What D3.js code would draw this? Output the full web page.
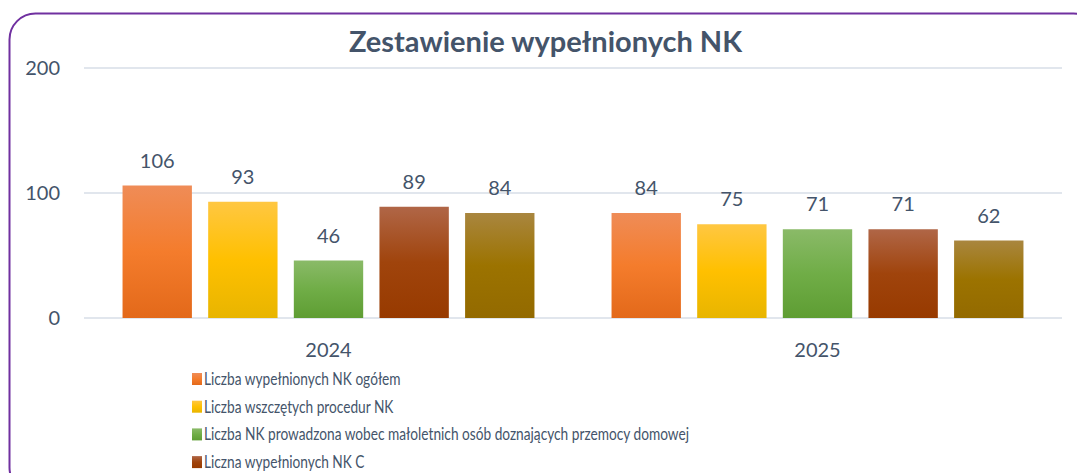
<!DOCTYPE html>
<html>
<head>
<meta charset="utf-8">
<script src="https://cdn.jsdelivr.net/npm/d3@7"></script>
<style>
  html, body { margin: 0; padding: 0; background: #ffffff; }
  svg { display: block; }
  text { font-family: Lato, "Noto Sans", sans-serif; fill: #44546a; }
</style>
</head>
<body>
<svg id="chart" width="1077" height="473"></svg>
<script>
const title = "Zestawienie wypełnionych NK";
const categories = ["2024", "2025"];
const seriesNames = [
  "Liczba wypełnionych NK ogółem",
  "Liczba wszczętych procedur NK",
  "Liczba NK prowadzona wobec małoletnich osób doznających przemocy domowej",
  "Liczna wypełnionych NK C",
  "Liczba zakończonych procedur NK"
];
const values2024 = [106, 93, 46, 89, 84];
const values2025 = [84, 75, 71, 71, 62];
const yTicks = [0, 100, 200];
const seriesColors = [
  ["#ef8c57", "#f47c2c", "#e3691a"],
  ["#ffc742", "#ffc000", "#e8b500"],
  ["#8aba68", "#70ad47", "#5e9d33"],
  ["#b06647", "#a0440c", "#973a00"],
  ["#a9863f", "#9c7300", "#936a00"]
];

const valuesByCategory = [values2024, values2025];
const data = categories.map((c, i) => ({
  category: c,
  values: seriesNames.map((s, j) => ({ series: j, value: valuesByCategory[i][j] }))
}));

const W = 1077, H = 473;
const margin = { left: 84, right: 15, top: 68, bottom: 155 };
const svg = d3.select("#chart");

svg.append("rect").attr("width", W).attr("height", H).attr("fill", "#ffffff");

const defs = svg.append("defs");
seriesColors.forEach((cols, i) => {
  const g = defs.append("linearGradient")
    .attr("id", "grad" + i)
    .attr("x1", 0).attr("y1", 0).attr("x2", 0).attr("y2", 1);
  g.append("stop").attr("offset", "0%").attr("stop-color", cols[0]);
  g.append("stop").attr("offset", "50%").attr("stop-color", cols[1]);
  g.append("stop").attr("offset", "100%").attr("stop-color", cols[2]);
});

// frame
svg.append("rect")
  .attr("x", 9.5).attr("y", 13.5)
  .attr("width", 1090).attr("height", 480)
  .attr("rx", 26).attr("ry", 26)
  .attr("fill", "none")
  .attr("stroke", "#7030a0")
  .attr("stroke-width", 2);

const plotLeft = margin.left, plotRight = W - margin.right;
const y = d3.scaleLinear().domain([0, 200]).range([318, 68]);
const x0 = d3.scaleBand().domain(categories).range([plotLeft, plotRight]).padding(0);
const x1 = d3.scaleBand().domain(d3.range(seriesNames.length))
  .range([0, x0.bandwidth()]).paddingInner(0.19).paddingOuter(0.45);

svg.append("g").selectAll("line").data(yTicks).join("line")
  .attr("x1", plotLeft).attr("x2", plotRight)
  .attr("y1", d => y(d)).attr("y2", d => y(d))
  .attr("stroke", "#e1e6ed").attr("stroke-width", 2);

svg.append("g").selectAll("text").data(yTicks).join("text")
  .attr("x", 60).attr("y", d => y(d))
  .attr("dy", "0.36em")
  .attr("text-anchor", "end")
  .style("font-size", "20px")
  .text(d => d);

const groups = svg.append("g").selectAll("g").data(data).join("g")
  .attr("transform", d => `translate(${x0(d.category)},0)`);

groups.selectAll("rect").data(d => d.values).join("rect")
  .attr("x", d => x1(d.series))
  .attr("width", x1.bandwidth())
  .attr("y", d => y(d.value))
  .attr("height", d => y(0) - y(d.value))
  .attr("fill", d => `url(#grad${d.series})`);

groups.selectAll("text").data(d => d.values).join("text")
  .attr("x", d => x1(d.series) + x1.bandwidth() / 2)
  .attr("y", d => y(d.value) - 18)
  .attr("text-anchor", "middle")
  .style("font-size", "20px")
  .text(d => d.value);

svg.append("g").selectAll("text").data(categories).join("text")
  .attr("x", d => x0(d) + x0.bandwidth() / 2)
  .attr("y", 357)
  .attr("text-anchor", "middle")
  .style("font-size", "20px")
  .text(d => d);

svg.append("text")
  .attr("x", 545.5).attr("y", 52)
  .attr("text-anchor", "middle")
  .style("font-size", "29px").style("font-weight", "bold")
  .text(title);

// legend (entries that fall below the visible area are clipped, as in the reference)
const legendRows = seriesNames.map((name, i) => ({ name, i, y: 385 + i * 27.7 }))
  .filter(r => r.y < H);
const legend = svg.append("g").selectAll("g").data(legendRows).join("g")
  .attr("transform", d => `translate(192,${d.y})`);
legend.append("rect")
  .attr("x", 0).attr("y", -12).attr("width", 10).attr("height", 12)
  .attr("fill", d => `url(#grad${d.i})`);
legend.append("text")
  .attr("transform", "translate(12,0) scale(0.83,1)")
  .style("font-size", "16.5px")
  .text(d => d.name);
</script>
</body>
</html>
